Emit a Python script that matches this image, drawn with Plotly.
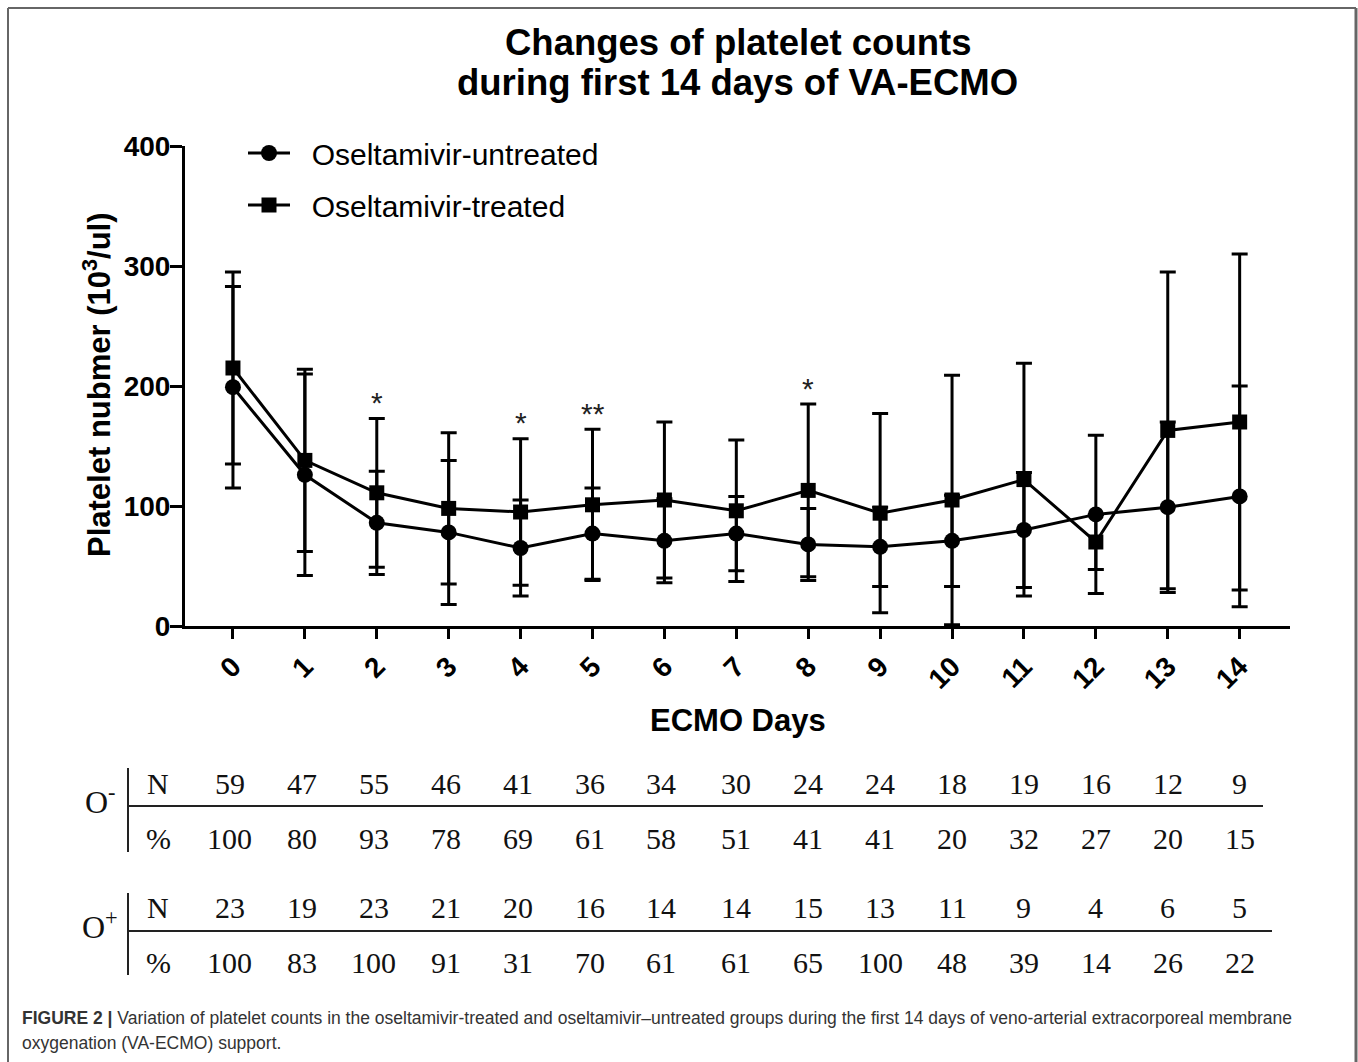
import plotly.graph_objects as go

# ---------------- data ----------------
days = list(range(15))
day_labels = [str(d) for d in days]

untreated_mean = [199, 126, 86, 78, 65, 77, 71, 77, 68, 66, 71, 80, 93, 99, 108]
untreated_sd = [84, 84, 43, 60, 40, 38, 35, 31, 30, 33, 38, 48, 66, 71, 92]
treated_mean = [215, 138, 111, 98, 95, 101, 105, 96, 113, 94, 105, 122, 70, 163, 170]
treated_sd = [80, 76, 62, 63, 61, 63, 65, 59, 72, 83, 104, 97, 23, 132, 140]

sig_days = [2, 4, 5, 8]
sig_marks = ["*", "*", "**", "*"]

o_minus_n = [59, 47, 55, 46, 41, 36, 34, 30, 24, 24, 18, 19, 16, 12, 9]
o_minus_pct = [100, 80, 93, 78, 69, 61, 58, 51, 41, 41, 20, 32, 27, 20, 15]
o_plus_n = [23, 19, 23, 21, 20, 16, 14, 14, 15, 13, 11, 9, 4, 6, 5]
o_plus_pct = [100, 83, 100, 91, 31, 70, 61, 61, 65, 100, 48, 39, 14, 26, 22]

title_lines = ["Changes of platelet counts", "during first 14 days of VA-ECMO"]
caption_1 = ("<b>FIGURE 2 |</b> Variation of platelet counts in the oseltamivir-treated and "
             "oseltamivir\u2013untreated groups during the first 14 days of veno-arterial "
             "extracorporeal membrane")
caption_2 = "oxygenation (VA-ECMO) support."

# ---------------- layout geometry (pixels) ----------------
W, H = 1358, 1062
L, R, T, B = 185, 1290, 146, 626   # plot area edges in px


def px_x(p):
    return (p - L) / (R - L)


def px_y(p):
    return (B - p) / (B - T)


SANS = "Liberation Sans, Arial, sans-serif"
SERIF = "Liberation Serif, Times New Roman, serif"
PAD = "\u00a0\u00a0"

fig = go.Figure()

err_style = dict(type="data", symmetric=True, thickness=3, width=8, color="black")

fig.add_trace(go.Scatter(
    x=days, y=untreated_mean, mode="lines+markers", name=PAD + "Oseltamivir-untreated",
    legendgroup="a",
    line=dict(color="black", width=3),
    marker=dict(symbol="circle", size=16, color="black"),
    error_y=dict(array=untreated_sd, **err_style),
))
fig.add_trace(go.Scatter(
    x=days, y=treated_mean, mode="lines+markers", name=PAD + "Oseltamivir-treated",
    legendgroup="b",
    line=dict(color="black", width=3),
    marker=dict(symbol="square", size=15, color="black"),
    error_y=dict(array=treated_sd, **err_style),
))

annotations = []

# significance marks above the upper error bar of the treated group
for d, m in zip(sig_days, sig_marks):
    top = treated_mean[d] + treated_sd[d]
    annotations.append(dict(x=d, y=top, xref="x", yref="y", text=m, showarrow=False,
                            yanchor="middle", yshift=16,
                            font=dict(family=SANS, size=30, color="#222222")))

# title
for i, line in enumerate(title_lines):
    annotations.append(dict(x=0.5, y=px_y(42 + 40 * i), xref="paper", yref="paper",
                            text="<b>" + line + "</b>", showarrow=False,
                            xanchor="center", yanchor="middle",
                            font=dict(family=SANS, size=36.5, color="black")))

# axis titles
annotations.append(dict(x=px_x(97), y=px_y(385), xref="paper", yref="paper",
                        text="<b>Platelet nubmer (10<sup>3</sup>/ul)</b>", textangle=-90,
                        showarrow=False, xanchor="center", yanchor="middle",
                        font=dict(family=SANS, size=31, color="black")))
annotations.append(dict(x=0.5, y=px_y(720), xref="paper", yref="paper",
                        text="<b>ECMO Days</b>", showarrow=False,
                        xanchor="center", yanchor="middle",
                        font=dict(family=SANS, size=31, color="black")))

# table below axis
table_font = dict(family=SERIF, size=30, color="#111111")
rows = [(o_minus_n, 783, "N"), (o_minus_pct, 838, "%"),
        (o_plus_n, 907, "N"), (o_plus_pct, 962, "%")]
for vals, ypx, lab in rows:
    annotations.append(dict(x=px_x(158), y=px_y(ypx), xref="paper", yref="paper",
                            text=lab, showarrow=False, xanchor="center", yanchor="middle",
                            font=table_font))
    for d, v in zip(days, vals):
        annotations.append(dict(x=d, y=px_y(ypx), xref="x", yref="paper",
                                text=str(v), showarrow=False, xanchor="center",
                                yanchor="middle", xshift=-3 if d < 7 else 0,
                                font=table_font))
for grp, ypx in [("O<sup>-</sup>", 800), ("O<sup>+</sup>", 925)]:
    annotations.append(dict(x=px_x(100), y=px_y(ypx), xref="paper", yref="paper",
                            text=grp, showarrow=False, xanchor="center", yanchor="middle",
                            font=dict(family=SERIF, size=32, color="#111111")))

# caption
cap_font = dict(family=SANS, size=17.5, color="#333333")
annotations.append(dict(x=px_x(20), y=px_y(1018), xref="paper", yref="paper",
                        text=caption_1, showarrow=False, xanchor="left", yanchor="middle",
                        font=cap_font))
annotations.append(dict(x=px_x(20), y=px_y(1043), xref="paper", yref="paper",
                        text=caption_2, showarrow=False, xanchor="left", yanchor="middle",
                        font=cap_font))

shapes = []
line_col = "#222222"
# table rules
for y0, y1, yh, xe in [(768, 852, 806, 1263), (893, 975, 931, 1272)]:
    shapes.append(dict(type="line", xref="paper", yref="paper",
                       x0=px_x(128), x1=px_x(128), y0=px_y(y0), y1=px_y(y1),
                       line=dict(color=line_col, width=2)))
    shapes.append(dict(type="line", xref="paper", yref="paper",
                       x0=px_x(128), x1=px_x(xe), y0=px_y(yh), y1=px_y(yh),
                       line=dict(color=line_col, width=2)))
# outer frame
frame_col = "#666666"
shapes.append(dict(type="line", xref="paper", yref="paper", x0=px_x(8), x1=px_x(1356),
                   y0=px_y(8), y1=px_y(8), line=dict(color=frame_col, width=2)))
shapes.append(dict(type="line", xref="paper", yref="paper", x0=px_x(8), x1=px_x(8),
                   y0=px_y(8), y1=px_y(1075), line=dict(color=frame_col, width=2)))
shapes.append(dict(type="line", xref="paper", yref="paper", x0=px_x(1356), x1=px_x(1356),
                   y0=px_y(8), y1=px_y(1075), line=dict(color=frame_col, width=3)))

fig.update_layout(
    width=W, height=H,
    margin=dict(l=L, r=W - R, t=T, b=H - B, pad=0),
    paper_bgcolor="white", plot_bgcolor="white",
    showlegend=True,
    legend=dict(x=px_x(243), y=px_y(127), xanchor="left", yanchor="top",
                bgcolor="rgba(0,0,0,0)", borderwidth=0, tracegroupgap=10,
                itemwidth=42,
                font=dict(family=SANS, size=30, color="black")),
    annotations=annotations,
    shapes=shapes,
)

fig.update_xaxes(
    range=[-0.667, 14.70], tickmode="array", tickvals=days, ticktext=day_labels,
    tickangle=-45, showline=True, linecolor="black", linewidth=3,
    ticks="outside", ticklen=10, tickwidth=3, tickcolor="black",
    showgrid=False, zeroline=False,
    tickfont=dict(family=SANS, size=28, color="black", weight="bold"),
)
fig.update_yaxes(
    range=[0, 400], tickvals=[0, 100, 200, 300, 400],
    showline=True, linecolor="black", linewidth=3,
    ticks="outside", ticklen=12, tickwidth=3, tickcolor="black",
    ticklabelstandoff=-6,
    showgrid=False, zeroline=False,
    tickfont=dict(family=SANS, size=28, color="black", weight="bold"),
)

fig.write_html("out.html", config={"displayModeBar": False},
               post_script="document.body.style.margin='0';")
